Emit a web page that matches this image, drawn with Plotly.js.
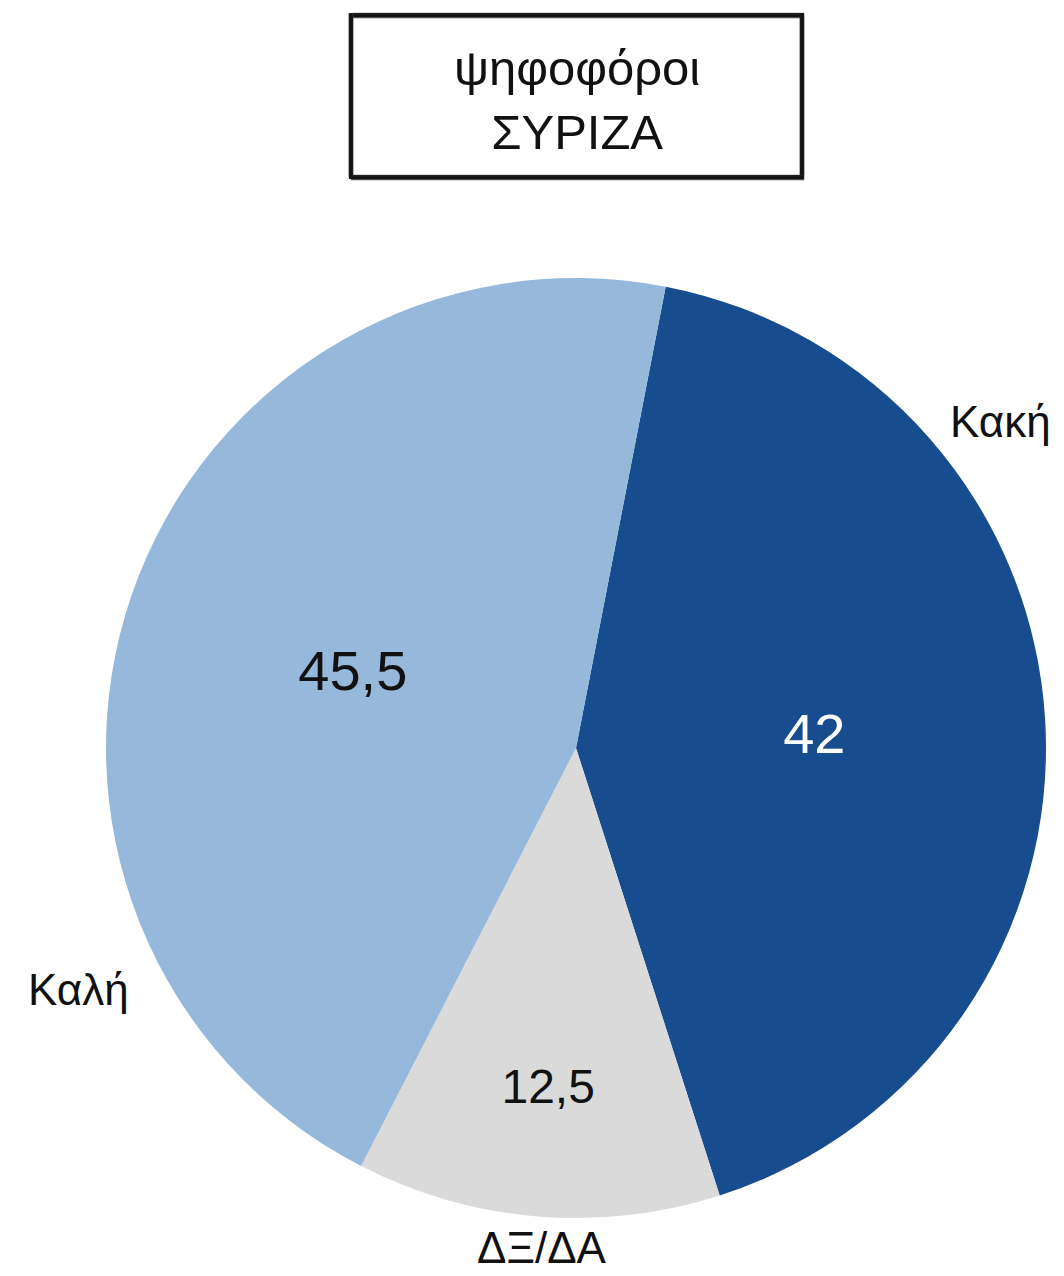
<!DOCTYPE html>
<html>
<head>
<meta charset="utf-8">
<script src="https://cdn.plot.ly/plotly-3.0.1.min.js"></script>
<style>
  html, body { margin: 0; padding: 0; background: #fff; }
  #chart { width: 1064px; height: 1276px; }
</style>
</head>
<body>
<div id="chart"></div>
<script>
// slice order follows the picture, clockwise from the top
const labels = ["Κακή", "ΔΞ/ΔΑ", "Καλή"];
const values = [42, 12.5, 45.5];
const colors = ["#174c8f", "#dadada", "#96b8da"];
const valueColors = ["#ffffff", "#111111", "#111111"];
const titleLines = ["ψηφοφόροι", "ΣΥΡΙΖΑ"];

const W = 1064, H = 1276;
const px = x => x / W;
const py = y => 1 - y / H;

const FONT = "Liberation Sans, Arial, sans-serif";

const pie = {
  type: "pie",
  labels: labels,
  values: values,
  sort: false,
  direction: "clockwise",
  rotation: 11,
  marker: { colors: colors, line: { width: 0 } },
  textinfo: "value",
  textposition: "inside",
  insidetextorientation: "horizontal",
  insidetextfont: { family: FONT, size: [56, 48, 56], color: valueColors },
  hoverinfo: "none",
  showlegend: false,
  domain: { x: [px(106), px(1046)], y: [py(1218), py(278)] }
};

// outside category labels, placed where the original puts them
const labelSpots = [
  { text: labels[0], x: 1000, y: 421 },
  { text: labels[1], x: 542, y: 1247 },
  { text: labels[2], x: 78, y: 989 }
];

const annotations = labelSpots.map(l => ({
  text: l.text,
  x: px(l.x), y: py(l.y),
  xref: "paper", yref: "paper",
  xanchor: "center", yanchor: "middle",
  showarrow: false,
  borderpad: 0,
  font: { family: FONT, size: 44, color: "#111" }
}));

annotations.push({
  text: titleLines.join("<br>"),
  x: px(577), y: py(100),
  xref: "paper", yref: "paper",
  xanchor: "center", yanchor: "middle",
  showarrow: false,
  font: { family: FONT, size: 49, color: "#111" }
});

// rough hand-drawn looking frame around the title
const frame = (dx, dy, w, c) => ({
  type: "rect", xref: "paper", yref: "paper",
  x0: px(351 + dx), x1: px(802 + dx), y0: py(177 + dy), y1: py(15 + dy),
  line: { color: c, width: w }, fillcolor: "rgba(0,0,0,0)"
});

const layout = {
  width: W,
  height: H,
  margin: { l: 0, r: 0, t: 0, b: 0 },
  paper_bgcolor: "#fff",
  separators: ",.",
  annotations: annotations,
  shapes: [
    frame(0, 0, 4, "#111"),
    frame(1, 2, 2.5, "rgba(20,20,20,0.75)"),
    frame(-2, -1, 1.5, "rgba(40,40,40,0.5)"),
    frame(2, -2, 1, "rgba(60,60,60,0.4)")
  ]
};

Plotly.newPlot("chart", [pie], layout, { displayModeBar: false, staticPlot: true });
</script>
</body>
</html>
